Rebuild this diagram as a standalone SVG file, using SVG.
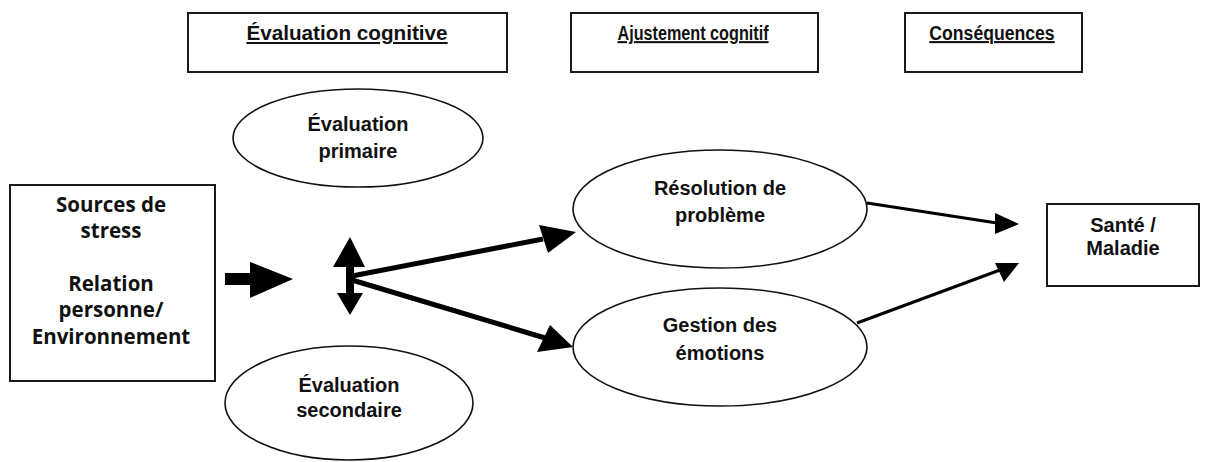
<svg xmlns="http://www.w3.org/2000/svg" width="1232" height="462" viewBox="0 0 1232 462">
<style>
.box{fill:#fff;stroke:#1a1a1a;stroke-width:2}
.ell{fill:#fff;stroke:#111;stroke-width:1.6}
.hdr{font-family:"Liberation Sans",Arial,sans-serif;font-weight:700;font-size:20.5px;fill:#111;text-anchor:middle;text-decoration:underline}
.lbl{font-family:"Liberation Sans",Arial,sans-serif;font-weight:700;font-size:20px;fill:#111;text-anchor:middle}
.src{font-family:"Open Sans","Noto Sans",sans-serif;font-weight:700;font-size:20.5px;fill:#111;text-anchor:middle}
.ln{stroke:#000;fill:none}
.hd{fill:#000}
</style>
<rect width="1232" height="462" fill="#fff"/>
<g id="hdr-evaluation">
<rect class="box" x="188" y="13" width="319" height="59"/>
<text class="hdr" transform="translate(347,40) scale(1.01,1)">Évaluation cognitive</text>
</g>
<g id="hdr-ajustement">
<rect class="box" x="571" y="13" width="247" height="59"/>
<text class="hdr" transform="translate(693,40) scale(0.79,1)">Ajustement cognitif</text>
</g>
<g id="hdr-consequences">
<rect class="box" x="905" y="13" width="177" height="59"/>
<text class="hdr" transform="translate(992,40) scale(0.86,1)">Conséquences</text>
</g>
<g id="sources">
<rect class="box" x="10" y="185" width="205" height="196"/>
<text class="src" x="111" y="212">Sources de</text>
<text class="src" x="111" y="238">stress</text>
<text class="src" x="111" y="291">Relation</text>
<text class="src" x="111" y="317">personne/</text>
<text class="src" x="111" y="344">Environnement</text>
</g>
<g id="eval-primaire">
<ellipse class="ell" cx="358" cy="138" rx="125" ry="49"/>
<text class="lbl" x="358" y="131">Évaluation</text>
<text class="lbl" x="358" y="158">primaire</text>
</g>
<g id="eval-secondaire">
<ellipse class="ell" cx="349" cy="403" rx="124" ry="57"/>
<text class="lbl" x="349" y="392">Évaluation</text>
<text class="lbl" x="349" y="417">secondaire</text>
</g>
<g id="resolution">
<ellipse class="ell" cx="720" cy="209" rx="147" ry="59"/>
<text class="lbl" x="720" y="195">Résolution de</text>
<text class="lbl" x="720" y="222">problème</text>
</g>
<g id="gestion">
<ellipse class="ell" cx="720" cy="347" rx="147" ry="59"/>
<text class="lbl" x="720" y="332">Gestion des</text>
<text class="lbl" x="720" y="360">émotions</text>
</g>
<g id="sante">
<rect class="box" x="1047" y="204" width="152" height="82"/>
<text class="lbl" x="1123" y="232">Santé /</text>
<text class="lbl" x="1123" y="255">Maladie</text>
</g>
<g id="connectors">
<rect x="225" y="273" width="27" height="12" fill="#000"/>
<polygon class="hd" points="250,262 293,279 250,298"/>
<polygon class="hd" points="350,237 365,267 354,267 354,293 363,293 350,315 337,293 346,293 346,267 333,267"/>
<line class="ln" stroke-width="5" x1="352" y1="276" x2="543" y2="239"/>
<polygon class="hd" points="539,225 576,232 548,253"/>
<line class="ln" stroke-width="5" x1="352" y1="280" x2="545" y2="338"/>
<polygon class="hd" points="550,325 573,347 537,352"/>
<line class="ln" stroke-width="3" x1="867" y1="203" x2="997" y2="223"/>
<polygon class="hd" points="995,213 1019,224 995,234"/>
<line class="ln" stroke-width="3" x1="857" y1="323" x2="1000" y2="270"/>
<polygon class="hd" points="995,263 1019,263 1004,282"/>
</g>
</svg>
